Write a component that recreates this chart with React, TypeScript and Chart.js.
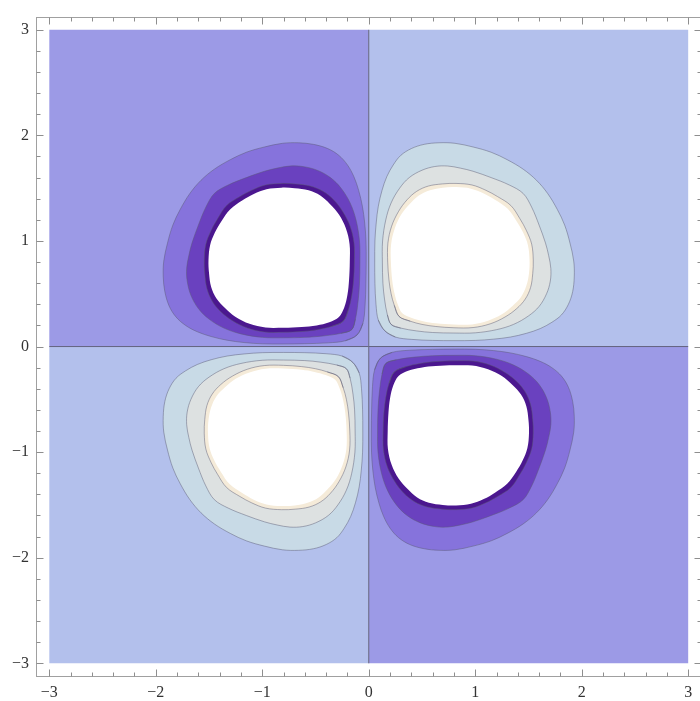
import React, { useEffect, useRef } from 'react';
import { Chart, registerables } from 'chart.js';

Chart.register(...registerables);

// Axis ticks
const majorTicks = [-3, -2, -1, 0, 1, 2, 3];
const minorPerMajor = 5;
const axisMin = -3.125;
const axisMax = 3.125;
const plotExtent = 3;

type Pt = [number, number];

// Positive lobes (x>0,y>0 and mirrored into x<0,y<0): contour outlines
const posOuter: Pt[] = [
  [0.15, 0.15], [0.25, 0.09], [0.40, 0.068], [0.60, 0.058], [0.80, 0.056], [1.00, 0.058],
  [1.17, 0.07], [1.33, 0.09], [1.48, 0.125], [1.61, 0.17], [1.72, 0.23], [1.81, 0.30],
  [1.875, 0.40], [1.915, 0.52], [1.93, 0.66], [1.925, 0.81], [1.89, 0.98], [1.84, 1.15],
  [1.77, 1.30], [1.68, 1.45], [1.575, 1.575], [1.45, 1.68], [1.30, 1.77], [1.15, 1.84],
  [0.98, 1.89], [0.81, 1.925], [0.66, 1.93], [0.52, 1.915], [0.40, 1.875], [0.30, 1.81],
  [0.23, 1.72], [0.17, 1.61], [0.125, 1.48], [0.09, 1.33], [0.07, 1.17], [0.058, 1.00],
  [0.056, 0.80], [0.058, 0.60], [0.068, 0.40], [0.09, 0.25],
];
const posMiddle: Pt[] = [
  [0.21, 0.21], [0.30, 0.175], [0.45, 0.148], [0.60, 0.133], [0.80, 0.128], [1.00, 0.13],
  [1.20, 0.16], [1.36, 0.21], [1.50, 0.29], [1.60, 0.38], [1.67, 0.50], [1.705, 0.62],
  [1.71, 0.74], [1.69, 0.86], [1.66, 0.98], [1.60, 1.15], [1.53, 1.32], [1.45, 1.45],
  [1.32, 1.53], [1.15, 1.60], [0.98, 1.66], [0.86, 1.69], [0.74, 1.71], [0.62, 1.705],
  [0.50, 1.67], [0.38, 1.60], [0.29, 1.50], [0.21, 1.36], [0.16, 1.20], [0.13, 1.00],
  [0.128, 0.80], [0.133, 0.60], [0.148, 0.45], [0.175, 0.30],
];
const posInner: Pt[] = [
  [0.285, 0.285], [0.39, 0.24], [0.50, 0.21], [0.63, 0.19], [0.80, 0.178], [0.98, 0.18],
  [1.14, 0.215], [1.28, 0.28], [1.39, 0.36], [1.47, 0.45], [1.52, 0.56], [1.54, 0.69],
  [1.545, 0.82], [1.53, 0.97], [1.48, 1.10], [1.42, 1.21], [1.335, 1.335], [1.21, 1.42],
  [1.10, 1.48], [0.97, 1.53], [0.82, 1.545], [0.69, 1.54], [0.56, 1.52], [0.45, 1.47],
  [0.36, 1.39], [0.28, 1.28], [0.215, 1.14], [0.18, 0.98], [0.178, 0.80], [0.19, 0.63],
  [0.21, 0.50], [0.24, 0.39],
];
const posClipped: Pt[] = [
  [0.315, 0.315], [0.405, 0.27], [0.51, 0.24], [0.63, 0.22], [0.80, 0.208], [0.97, 0.21],
  [1.12, 0.245], [1.25, 0.305], [1.35, 0.385], [1.43, 0.47], [1.48, 0.575], [1.505, 0.695],
  [1.51, 0.82], [1.495, 0.96], [1.45, 1.08], [1.39, 1.185], [1.305, 1.305], [1.185, 1.39],
  [1.08, 1.45], [0.96, 1.495], [0.82, 1.51], [0.695, 1.505], [0.575, 1.48], [0.47, 1.43],
  [0.385, 1.35], [0.305, 1.25], [0.245, 1.12], [0.21, 0.97], [0.208, 0.80], [0.22, 0.63],
  [0.24, 0.51], [0.27, 0.405],
];

// Negative lobes (x<0,y>0 and x>0,y<0), given as |x|,|y|; they sit a little closer to the axes
const negOuter: Pt[] = [
  [0.11, 0.11], [0.22, 0.055], [0.38, 0.035], [0.60, 0.027], [0.80, 0.024], [1.00, 0.026],
  [1.17, 0.038], [1.33, 0.06], [1.48, 0.095], [1.61, 0.14], [1.72, 0.20], [1.81, 0.28],
  [1.875, 0.385], [1.915, 0.52], [1.93, 0.66], [1.925, 0.81], [1.89, 0.98], [1.84, 1.15],
  [1.77, 1.30], [1.68, 1.45], [1.575, 1.575], [1.45, 1.68], [1.30, 1.77], [1.15, 1.84],
  [0.98, 1.89], [0.81, 1.925], [0.66, 1.93], [0.52, 1.915], [0.385, 1.875], [0.28, 1.81],
  [0.20, 1.72], [0.14, 1.61], [0.095, 1.48], [0.06, 1.33], [0.038, 1.17], [0.026, 1.00],
  [0.024, 0.80], [0.027, 0.60], [0.035, 0.38], [0.055, 0.22],
];
const negMiddle: Pt[] = [
  [0.16, 0.16], [0.26, 0.125], [0.43, 0.10], [0.60, 0.087], [0.80, 0.083], [1.00, 0.087],
  [1.20, 0.12], [1.36, 0.175], [1.50, 0.26], [1.60, 0.36], [1.67, 0.485], [1.705, 0.62],
  [1.71, 0.74], [1.69, 0.86], [1.66, 0.98], [1.60, 1.15], [1.53, 1.32], [1.45, 1.45],
  [1.32, 1.53], [1.15, 1.60], [0.98, 1.66], [0.86, 1.69], [0.74, 1.71], [0.62, 1.705],
  [0.485, 1.67], [0.36, 1.60], [0.26, 1.50], [0.175, 1.36], [0.12, 1.20], [0.087, 1.00],
  [0.083, 0.80], [0.087, 0.60], [0.10, 0.43], [0.125, 0.26],
];
const negInner: Pt[] = [
  [0.24, 0.24], [0.35, 0.19], [0.48, 0.16], [0.63, 0.142], [0.80, 0.135], [0.98, 0.138],
  [1.14, 0.175], [1.28, 0.245], [1.39, 0.33], [1.47, 0.43], [1.52, 0.55], [1.54, 0.69],
  [1.545, 0.82], [1.53, 0.97], [1.48, 1.10], [1.42, 1.21], [1.335, 1.335], [1.21, 1.42],
  [1.10, 1.48], [0.97, 1.53], [0.82, 1.545], [0.69, 1.54], [0.55, 1.52], [0.43, 1.47],
  [0.33, 1.39], [0.245, 1.28], [0.175, 1.14], [0.138, 0.98], [0.135, 0.80], [0.142, 0.63],
  [0.16, 0.48], [0.19, 0.35],
];
const negClipped: Pt[] = [
  [0.28, 0.28], [0.37, 0.23], [0.49, 0.20], [0.63, 0.185], [0.80, 0.178], [0.97, 0.18],
  [1.12, 0.215], [1.25, 0.28], [1.35, 0.365], [1.43, 0.455], [1.48, 0.565], [1.50, 0.695],
  [1.505, 0.82], [1.49, 0.96], [1.445, 1.08], [1.385, 1.185], [1.30, 1.30], [1.185, 1.385],
  [1.08, 1.445], [0.96, 1.49], [0.82, 1.505], [0.695, 1.50], [0.565, 1.48], [0.455, 1.43],
  [0.365, 1.35], [0.28, 1.25], [0.215, 1.12], [0.18, 0.97], [0.178, 0.80], [0.185, 0.63],
  [0.20, 0.49], [0.23, 0.37],
];

// Quadrant signs: [sx, sy, sign of function]
const quadrants: [number, number, 'pos' | 'neg'][] = [
  [1, 1, 'pos'],
  [-1, 1, 'neg'],
  [-1, -1, 'pos'],
  [1, -1, 'neg'],
];

const contours = {
  pos: [posOuter, posMiddle, posInner, posClipped],
  neg: [negOuter, negMiddle, negInner, negClipped],
};

const palette = {
  pos: { bg: '#b3c0ec', bands: ['#c8dae6', '#dde1e1', '#f5ebd9', '#ffffff'] },
  neg: { bg: '#9c9ae6', bands: ['#8673dc', '#6a41bf', '#4b178f', '#ffffff'] },
};

const outlineColor = 'rgba(90,90,115,0.6)';
const zeroLineColor = '#62627e';

const fmt = (v: number) => (v < 0 ? '\u2212' + Math.abs(v) : String(v));

const loopPoints = (pts: Pt[], sx: number, sy: number) => {
  const m = pts.map(([x, y]) => ({ x: x * sx, y: y * sy }));
  return [m[m.length - 1], ...m, m[0], m[1]];
};

const framePlugin = {
  id: 'mmaFrame',
  afterDraw(chart: any) {
    const { ctx, chartArea: a, scales } = chart;
    const xs = scales.x;
    const ys = scales.y;
    const L = Math.round(a.left) + 0.5;
    const T = Math.round(a.top) + 0.5;
    const B = Math.round(a.bottom) - 0.5;
    const R = Math.round(a.right) - 0.5;
    ctx.save();
    ctx.strokeStyle = '#a0a0a0';
    ctx.lineWidth = 1;
    ctx.strokeRect(L, T, R - L, B - T);
    ctx.strokeStyle = '#8e8e8e';
    const all: { v: number; major: boolean }[] = [];
    majorTicks.forEach((v, i) => {
      all.push({ v, major: true });
      if (i < majorTicks.length - 1) {
        const step = (majorTicks[i + 1] - v) / minorPerMajor;
        for (let k = 1; k < minorPerMajor; k++) all.push({ v: v + k * step, major: false });
      }
    });
    ctx.beginPath();
    for (const t of all) {
      const len = t.major ? 7 : 4;
      const px = Math.round(xs.getPixelForValue(t.v)) + 0.5;
      ctx.moveTo(px, B); ctx.lineTo(px, B - len);
      ctx.moveTo(px, T); ctx.lineTo(px, T + len);
      const py = Math.round(ys.getPixelForValue(t.v)) + 0.5;
      ctx.moveTo(L, py); ctx.lineTo(L + len, py);
      ctx.moveTo(R, py); ctx.lineTo(R - len, py);
    }
    ctx.stroke();
    ctx.restore();
  },
};

export default function App() {
  const ref = useRef<HTMLCanvasElement | null>(null);

  useEffect(() => {
    if (!ref.current) return;
    const datasets: any[] = [];
    const base = {
      pointRadius: 0,
      pointHoverRadius: 0,
      pointHitRadius: 0,
      fill: 'shape',
    };
    for (const [sx, sy, s] of quadrants) {
      const c = palette[s];
      datasets.push({
        ...base,
        data: [
          { x: 0, y: 0 },
          { x: plotExtent * sx, y: 0 },
          { x: plotExtent * sx, y: plotExtent * sy },
          { x: 0, y: plotExtent * sy },
          { x: 0, y: 0 },
        ],
        tension: 0,
        backgroundColor: c.bg,
        borderWidth: 0,
        borderColor: 'rgba(0,0,0,0)',
        order: 100,
      });
      contours[s].forEach((pts, i) => {
        const isClip = i === contours[s].length - 1;
        datasets.push({
          ...base,
          data: loopPoints(pts, sx, sy),
          tension: 0.35,
          backgroundColor: c.bands[i],
          borderColor: isClip ? 'rgba(0,0,0,0)' : outlineColor,
          borderWidth: isClip ? 0 : 0.8,
          order: 50 - i * 10,
        });
      });
    }
    // zero contour along the axes
    datasets.push({
      pointRadius: 0, fill: false, tension: 0, borderWidth: 1, borderColor: zeroLineColor, order: 5,
      data: [{ x: 0, y: -plotExtent }, { x: 0, y: plotExtent }],
    });
    datasets.push({
      pointRadius: 0, fill: false, tension: 0, borderWidth: 1, borderColor: zeroLineColor, order: 5,
      data: [{ x: -plotExtent, y: 0 }, { x: plotExtent, y: 0 }],
    });

    const tickFont = { family: "'Liberation Serif', 'Times New Roman', serif", size: 16 };
    const chart = new Chart(ref.current, {
      type: 'line',
      data: { datasets },
      plugins: [framePlugin],
      options: {
        responsive: false,
        animation: false,
        devicePixelRatio: 1,
        events: [],
        layout: { padding: { top: 10.5, right: 2.5, left: 0, bottom: 0 } },
        plugins: { legend: { display: false }, tooltip: { enabled: false } },
        scales: {
          x: {
            type: 'linear',
            min: axisMin,
            max: axisMax,
            bounds: 'data',
            grid: { display: false, drawTicks: false },
            border: { display: false },
            afterBuildTicks: (s: any) => { s.ticks = majorTicks.map((v) => ({ value: v })); },
            afterFit: (s: any) => { s.height = 24.5; },
            ticks: { callback: (v: any) => fmt(Number(v)), font: tickFont, color: '#333', padding: 7, maxRotation: 0, autoSkip: false },
          },
          y: {
            type: 'linear',
            min: axisMin,
            max: axisMax,
            bounds: 'data',
            grid: { display: false, drawTicks: false },
            border: { display: false },
            afterBuildTicks: (s: any) => { s.ticks = majorTicks.map((v) => ({ value: v })); },
            afterFit: (s: any) => { s.width = 36; },
            ticks: { callback: (v: any) => fmt(Number(v)), font: tickFont, color: '#333', padding: 7, autoSkip: false },
          },
        },
      } as any,
    });
    return () => chart.destroy();
  }, []);

  return (
    <div style={{ position: 'fixed', left: 0, top: 0, width: 700, height: 701, overflow: 'hidden', background: '#fff' }}>
      <canvas ref={ref} width={704} height={701} style={{ display: 'block', width: 704, height: 701 }} />
    </div>
  );
}
